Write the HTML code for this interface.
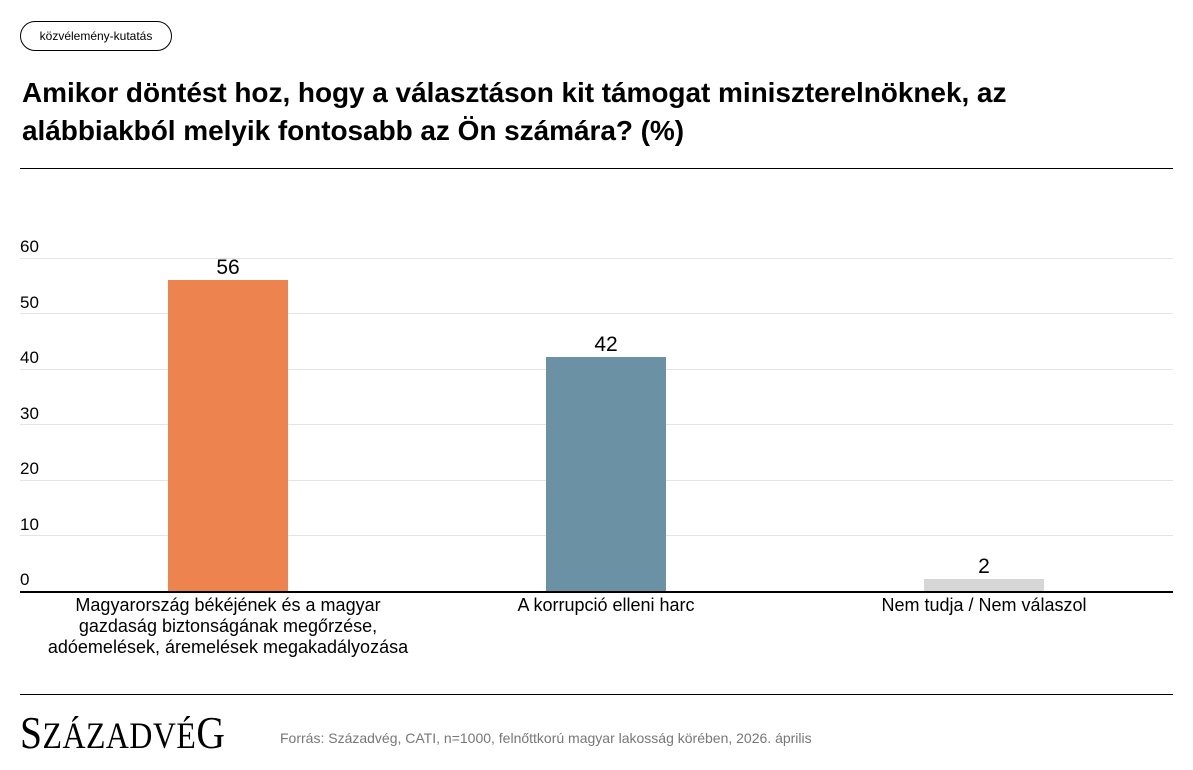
<!DOCTYPE html>
<html><head><meta charset="utf-8"><style>
body{margin:0;width:1193px;height:770px;background:#fff;position:relative;font-family:"Liberation Sans",Arial,sans-serif;overflow:hidden}
.a{position:absolute}
.pill{left:20px;top:21px;width:150px;height:28px;border:1.3px solid #000;border-radius:15px;font-size:12px;text-align:center;line-height:28px;color:#000}
.title{left:22px;top:74px;font-size:28px;font-weight:bold;line-height:38px;letter-spacing:-0.05px;color:#000;white-space:nowrap}
.hr{left:20px;width:1153px;height:1px;background:#000}
.grid{left:20px;width:1153px;height:1px;background:#e4e4e4}
.tick{left:20px;font-size:17px;color:#000}
.bar{width:120px}
.val{width:120px;text-align:center;font-size:21px}
.lab{text-align:center;font-size:18px;line-height:21px;width:420px}
</style></head><body>
<div class="a pill">közvélemény-kutatás</div>
<div class="a title">Amikor döntést hoz, hogy a választáson kit támogat miniszterelnöknek, az<br>alábbiakból melyik fontosabb az Ön számára? (%)</div>
<div class="a hr" style="top:168px"></div>

<div class="a grid" style="top:258px"></div>
<div class="a grid" style="top:313px"></div>
<div class="a grid" style="top:369px"></div>
<div class="a grid" style="top:424px"></div>
<div class="a grid" style="top:480px"></div>
<div class="a grid" style="top:535px"></div>
<div class="a tick" style="top:237px">60</div>
<div class="a tick" style="top:293px">50</div>
<div class="a tick" style="top:348px">40</div>
<div class="a tick" style="top:404px">30</div>
<div class="a tick" style="top:459px">20</div>
<div class="a tick" style="top:515px">10</div>
<div class="a tick" style="top:570px">0</div>

<div class="a bar" style="left:168px;top:280px;height:311px;background:#ed834e"></div>
<div class="a bar" style="left:546px;top:357px;height:234px;background:#6b91a5"></div>
<div class="a bar" style="left:924px;top:579px;height:12px;background:#d6d6d6"></div>
<div class="a val" style="left:168px;top:256px">56</div>
<div class="a val" style="left:546px;top:333px">42</div>
<div class="a val" style="left:924px;top:555px">2</div>
<div class="a hr" style="top:591px;height:1.5px"></div>

<div class="a lab" style="left:18px;top:595px">Magyarország békéjének és a magyar<br>gazdaság biztonságának megőrzése,<br>adóemelések, áremelések megakadályozása</div>
<div class="a lab" style="left:396px;top:595px">A korrupció elleni harc</div>
<div class="a lab" style="left:774px;top:595px">Nem tudja / Nem válaszol</div>

<div class="a hr" style="top:694px"></div>
<div class="a" style="left:20px;top:706px;font-family:'Liberation Serif',serif;color:#000;white-space:nowrap;transform:scaleX(0.86);transform-origin:left top;letter-spacing:0.6px"><span style="font-size:46px">S</span><span style="font-size:37px">ZÁZADVÉ</span><span style="font-size:46px">G</span></div>
<div class="a" style="left:280px;top:730px;font-size:14px;color:#777">Forrás: Századvég, CATI, n=1000, felnőttkorú magyar lakosság körében, 2026. április</div>
</body></html>
